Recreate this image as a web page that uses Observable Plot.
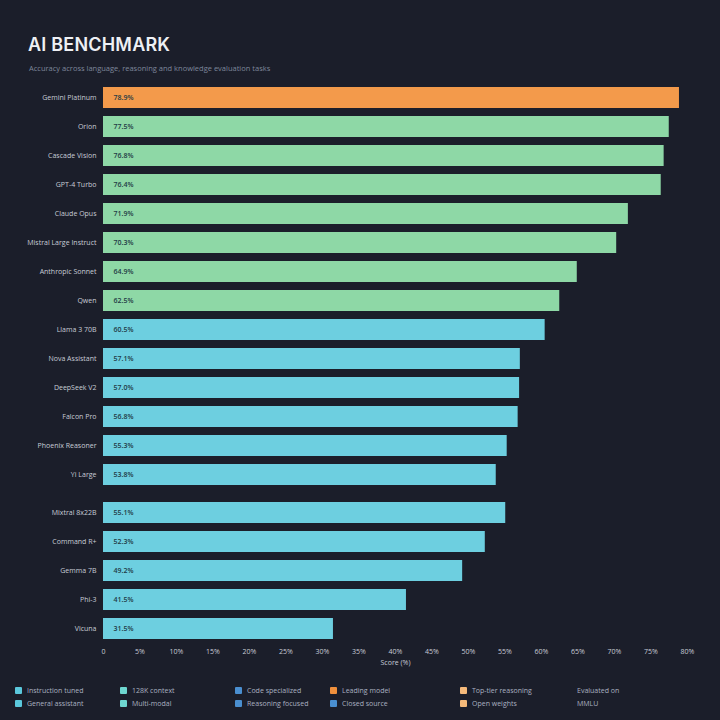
<!DOCTYPE html>
<html><head><meta charset="utf-8">
<script src="https://cdn.jsdelivr.net/npm/d3@7"></script>
<script src="https://cdn.jsdelivr.net/npm/@observablehq/plot@0.6"></script>
<style>
html,body{margin:0;padding:0;background:#1b1e2a;width:720px;height:720px;overflow:hidden;font-family:"Open Sans",Inter,sans-serif;}
#head{height:80px;position:relative;}
#title{position:absolute;left:28px;top:34px;font:600 18px Inter,"Open Sans",sans-serif;color:#eef0f4;letter-spacing:0.2px;}
#sub{position:absolute;left:29px;top:63px;font-size:7.5px;color:#7e879a;}
#legend{position:relative;height:48px;}
.li{position:absolute;font-size:7px;color:#aab1c0;display:flex;align-items:center;gap:5px;white-space:nowrap;}
.sw{width:7px;height:7px;border-radius:1px;display:inline-block;}
svg{display:block;}
</style></head>
<body>
<div id="head"><div id="title">AI BENCHMARK</div><div id="sub">Accuracy across language, reasoning and knowledge evaluation tasks</div></div>
<div id="top"></div>
<div id="bottom"></div>
<div id="legend"></div>
<script>
const modelsA = ["Gemini Platinum","Orion","Cascade Vision","GPT-4 Turbo","Claude Opus","Mistral Large Instruct","Anthropic Sonnet","Qwen","Llama 3 70B","Nova Assistant","DeepSeek V2","Falcon Pro","Phoenix Reasoner","Yi Large"];
const valuesA = [78.9,77.5,76.8,76.4,71.9,70.3,64.9,62.5,60.5,57.1,57.0,56.8,55.3,53.8];
const groupsA = ["Leader","Tier 1","Tier 1","Tier 1","Tier 1","Tier 1","Tier 1","Tier 1","Tier 2","Tier 2","Tier 2","Tier 2","Tier 2","Tier 2"];
const modelsB = ["Mixtral 8x22B","Command R+","Gemma 7B","Phi-3","Vicuna"];
const valuesB = [55.1,52.3,49.2,41.5,31.5];
const groupsB = ["Tier 2","Tier 2","Tier 2","Tier 2","Tier 2"];
const xTicks = d3.range(0, 81, 5);
const groupNames = ["Leader","Tier 1","Tier 2"];
const groupColors = ["#f39a4b","#8ed8a6","#6dcfe0"];
const legendLabels = [["Instruction tuned","General assistant"],["128K context","Multi-modal"],["Code specialized","Reasoning focused"],["Leading model","Closed source"],["Top-tier reasoning","Open weights"],["Evaluated on","MMLU"]];
const legendColors = [["#5bc8dc","#5bc8dc"],["#6ed6d0","#6ed6d0"],["#4a8fd0","#4a8fd0"],["#f0903c","#4a8fd0"],["#f5b97a","#f5b97a"],[null,null]];
const legendX = [15,120,235,330,460,565];

function makePlot(models, values, groups, opts){
  const data = models.map((m,i)=>({model:m,value:values[i],group:groups[i]}));
  return Plot.plot({
    width:720, height:opts.height, marginLeft:103, marginRight:33,
    marginTop:opts.marginTop, marginBottom:opts.marginBottom,
    style:{background:"transparent",color:"#c8ccd6",fontSize:"7px",fontFamily:"'Open Sans',sans-serif"},
    x:{domain:[0,80], axis: opts.axis ? "bottom" : null, ticks:xTicks, tickSize:0, tickPadding:6,
       tickFormat:d=>d===0?"0":d+"%", label: opts.axis ? "Score (%)" : null, labelAnchor:"center", labelArrow:"none", labelOffset:22},
    y:{domain:models, paddingInner:0.28, paddingOuter:0.14, tickSize:0, tickPadding:7, label:null},
    color:{type:"ordinal", domain:groupNames, range:groupColors},
    marks:[
      Plot.barX(data,{y:"model",x:"value",fill:"group"}),
      Plot.text(data,{y:"model",x:0,dx:10,text:d=>d.value.toFixed(1)+"%",textAnchor:"start",fill:"#1f3a44",fontSize:7,fontWeight:600})
    ]
  });
}
document.getElementById("top").append(makePlot(modelsA,valuesA,groupsA,{height:409,marginTop:3,marginBottom:0,axis:false}));
document.getElementById("bottom").append(makePlot(modelsB,valuesB,groupsB,{height:183,marginTop:8.5,marginBottom:29.5,axis:true}));

const leg = document.getElementById("legend");
legendLabels.forEach((pair,c)=>{
  pair.forEach((lab,r)=>{
    const d = document.createElement("div");
    d.className="li"; d.style.left=legendX[c]+"px"; d.style.top=(14+r*13)+"px";
    const col = legendColors[c][r];
    d.innerHTML = `<span class="sw" style="background:${col||"transparent"}"></span><span>${lab}</span>`;
    leg.append(d);
  });
});
</script>
</body></html>
